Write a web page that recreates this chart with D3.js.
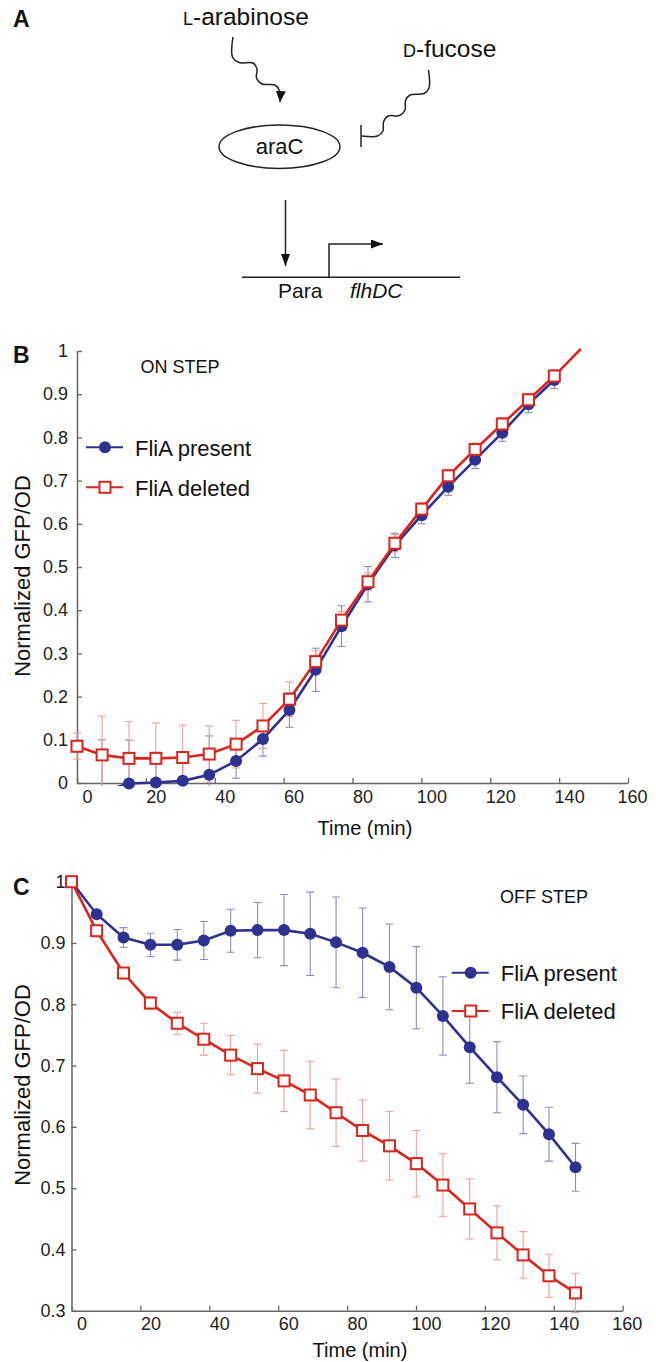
<!DOCTYPE html>
<html>
<head>
<meta charset="utf-8">
<script src="https://cdn.jsdelivr.net/npm/d3@7"></script>
<style>
  body { margin: 0; background: #fff; }
  svg { display: block; font-family: "Liberation Sans", Arial, sans-serif; }
</style>
</head>
<body>
<svg width="656" height="1362"></svg>
<script>
// sampling times (min), shared by both panels
const times = [0, 7.3, 15.1, 22.9, 30.7, 38.4, 46.2, 54, 61.7, 69.3, 76.8, 84.5, 92.3, 100.1, 107.8, 115.6, 123.5, 131.1, 138.6, 146.3];
const xTicks = [0, 20, 40, 60, 80, 100, 120, 140, 160];
const onTicks = [0, 0.1, 0.2, 0.3, 0.4, 0.5, 0.6, 0.7, 0.8, 0.9, 1];
const offTicks = [0.3, 0.4, 0.5, 0.6, 0.7, 0.8, 0.9, 1];
const seriesNames = ["FliA present", "FliA deleted"];

// B: ON STEP
const onPresent = [-0.04, -0.02, -0.001, 0.001, 0.005, 0.019, 0.051, 0.102, 0.169, 0.262, 0.363, 0.46, 0.55, 0.62, 0.686, 0.748, 0.811, 0.877, 0.933, null];
const onPresentErr = [0, 0.12, 0.1, 0.07, 0.065, 0.09, 0.04, 0.04, 0.04, 0.05, 0.047, 0.041, 0.028, 0.02, 0.02, 0.02, 0.02, 0.02, 0.02, 0];
const onDeleted = [0.085, 0.065, 0.057, 0.057, 0.059, 0.067, 0.09, 0.132, 0.194, 0.281, 0.377, 0.466, 0.555, 0.634, 0.711, 0.772, 0.831, 0.887, 0.942, 1.005];
const onDeletedErr = [0.03, 0.09, 0.085, 0.082, 0.075, 0.065, 0.055, 0.052, 0.04, 0.025, 0.02, 0.02, 0.02, 0.015, 0.015, 0.015, 0.015, 0.015, 0.015, 0];

// C: OFF STEP
const offPresent = [1.0, 0.947, 0.909, 0.897, 0.897, 0.904, 0.92, 0.921, 0.921, 0.915, 0.901, 0.884, 0.861, 0.827, 0.781, 0.73, 0.681, 0.636, 0.588, 0.534];
const offPresentErr = [0, 0, 0.016, 0.019, 0.025, 0.031, 0.035, 0.045, 0.058, 0.068, 0.074, 0.073, 0.07, 0.067, 0.064, 0.059, 0.058, 0.047, 0.044, 0.039];
const offDeleted = [1.0, 0.92, 0.851, 0.802, 0.769, 0.743, 0.717, 0.695, 0.675, 0.652, 0.623, 0.594, 0.569, 0.54, 0.505, 0.466, 0.427, 0.391, 0.357, 0.329];
const offDeletedErr = [0, 0, 0.005, 0.01, 0.018, 0.026, 0.032, 0.04, 0.05, 0.055, 0.055, 0.05, 0.056, 0.054, 0.051, 0.049, 0.044, 0.038, 0.035, 0.032];

const svg = d3.select("svg");
const blue = "#2f3190", red = "#d8261e";
const blueErr = "#8c8cbc", redErr = "#eea0a0";
const axisCol = "#666";

const defs = svg.append("defs");
function arrowMarker(id, w, h) {
  defs.append("marker")
    .attr("id", id)
    .attr("viewBox", `0 0 ${w} ${h}`)
    .attr("refX", w).attr("refY", h / 2)
    .attr("markerWidth", w).attr("markerHeight", h)
    .attr("markerUnits", "userSpaceOnUse")
    .attr("orient", "auto")
    .append("path")
    .attr("d", `M0,0L${w},${h / 2}L0,${h}Z`)
    .attr("fill", "#111");
}
arrowMarker("arr", 11, 10);
arrowMarker("arrLong", 12, 9);

// ---------- panel A: regulation diagram ----------
const dia = svg.append("g").attr("stroke", "#222").attr("fill", "none").attr("stroke-width", 1.5);
const wave = d3.line().curve(d3.curveCatmullRom.alpha(0.5));
const araPath = [[233, 37], [232.5, 57], [239, 62.5], [253, 63], [257, 69], [256.5, 78], [262, 84], [275, 85], [279.5, 91], [280, 102]];
const fucPath = [[428.5, 70], [429, 88], [424, 93.5], [410, 95], [405.5, 100.5], [405, 110], [399.5, 115.5], [388, 116], [383.5, 122], [383, 131], [377.5, 136], [362, 136]];
dia.append("path").attr("d", wave(araPath)).attr("marker-end", "url(#arr)");
dia.append("path").attr("d", wave(fucPath));
dia.append("line").attr("x1", 361).attr("x2", 361).attr("y1", 125).attr("y2", 147);
dia.append("ellipse").attr("cx", 279.5).attr("cy", 146.7).attr("rx", 60.5).attr("ry", 21.7);
dia.append("line").attr("x1", 285.5).attr("x2", 285.5).attr("y1", 200).attr("y2", 266).attr("marker-end", "url(#arrLong)");
dia.append("line").attr("x1", 242).attr("x2", 460).attr("y1", 277.3).attr("y2", 277.3);
dia.append("path").attr("d", "M329,277.3V244H383").attr("marker-end", "url(#arrLong)");

const txt = svg.append("g").attr("fill", "#111");
const ara = txt.append("text").attr("x", 183).attr("y", 25).attr("font-size", 24.5);
ara.append("tspan").attr("font-size", 18).text("L");
ara.append("tspan").text("-arabinose");
const fuc = txt.append("text").attr("x", 403).attr("y", 57).attr("font-size", 24.5);
fuc.append("tspan").attr("font-size", 18).text("D");
fuc.append("tspan").text("-fucose");
txt.append("text").attr("x", 279.5).attr("y", 154).attr("text-anchor", "middle").attr("font-size", 22).text("araC");
txt.append("text").attr("x", 278).attr("y", 298).attr("font-size", 21).text("Para");
txt.append("text").attr("x", 350).attr("y", 298).attr("font-size", 21).attr("font-style", "italic").text("flhDC");

// panel letters
[["A", 27], ["B", 363], ["C", 895]].forEach(([l, y]) => {
  svg.append("text").attr("x", 13).attr("y", y).attr("font-size", 23)
    .attr("font-weight", "bold").attr("fill", "#111").text(l);
});

// ---------- panels B and C ----------
function drawPanel(cfg) {
  const { x, y, yTicks, yPad, present, presentErr, deleted, deletedErr, id } = cfg;
  const g = svg.append("g");
  const [y0, y1] = y.domain();

  defs.append("clipPath").attr("id", id)
    .append("rect")
    .attr("x", x.range()[0] - 15).attr("y", y.range()[1] - 3)
    .attr("width", x.range()[1] - x.range()[0] + 15)
    .attr("height", y.range()[0] - y.range()[1] + 6);

  // axes
  const xAxis = g.append("g").attr("transform", `translate(0,${y.range()[0]})`)
    .call(d3.axisBottom(x).tickValues(xTicks).tickSizeInner(-5).tickSizeOuter(0)
      .tickPadding(7).tickFormat(d3.format("d")));
  xAxis.selectAll("text").attr("dx", d => d === 160 ? 4 : 10);
  const yAxis = g.append("g").attr("transform", `translate(${x.range()[0]},0)`)
    .call(d3.axisLeft(y).tickValues(yTicks).tickSizeInner(-5).tickSizeOuter(0)
      .tickPadding(yPad).tickFormat(d => String(d)));
  [xAxis, yAxis].forEach(a => {
    a.select(".domain").attr("stroke", axisCol).attr("stroke-width", 1.5);
    a.selectAll(".tick line").attr("stroke", axisCol).attr("stroke-width", 1.3);
    a.selectAll("text").attr("font-size", 18).attr("fill", "#222")
      .attr("font-family", "'Liberation Sans', Arial, sans-serif");
  });

  const series = [
    { vals: present, err: presentErr, col: blue, ecol: blueErr, shape: "circle" },
    { vals: deleted, err: deletedErr, col: red, ecol: redErr, shape: "square" }
  ];

  // error bars (behind lines)
  const eg = g.append("g").attr("clip-path", `url(#${id})`).attr("stroke-width", 1.1);
  series.forEach(s => {
    const pts = times.map((t, i) => ({ t, v: s.vals[i], e: s.err[i] }))
      .filter(d => d.v != null && d.e > 0);
    const bars = eg.append("g").attr("stroke", s.ecol);
    bars.selectAll("line.v").data(pts).join("line").attr("class", "v")
      .attr("x1", d => x(d.t)).attr("x2", d => x(d.t))
      .attr("y1", d => y(d.v - d.e)).attr("y2", d => y(d.v + d.e));
    [-1, 1].forEach(sg => {
      bars.selectAll(`line.c${sg}`).data(pts).join("line").attr("class", `c${sg}`)
        .attr("x1", d => x(d.t) - 4).attr("x2", d => x(d.t) + 4)
        .attr("y1", d => y(d.v + sg * d.e)).attr("y2", d => y(d.v + sg * d.e));
    });
  });

  // lines and markers
  series.forEach(s => {
    const pts = times.map((t, i) => ({ t, v: s.vals[i] })).filter(d => d.v != null);
    g.append("path").datum(pts)
      .attr("clip-path", `url(#${id})`)
      .attr("fill", "none").attr("stroke", s.col).attr("stroke-width", 2.6)
      .attr("d", d3.line().x(d => x(d.t)).y(d => y(d.v)));
    const shown = pts.filter(d => d.v >= y0 - 0.005 && d.v <= y1);
    if (s.shape === "circle") {
      g.append("g").selectAll("circle").data(shown).join("circle")
        .attr("cx", d => x(d.t)).attr("cy", d => y(d.v)).attr("r", 6)
        .attr("fill", s.col);
    } else {
      g.append("g").selectAll("rect").data(shown).join("rect")
        .attr("x", d => x(d.t) - 5.5).attr("y", d => y(d.v) - 5.5)
        .attr("width", 11).attr("height", 11)
        .attr("fill", "#fff").attr("stroke", s.col).attr("stroke-width", 2);
    }
  });

  // legend
  const lg = g.append("g");
  series.forEach((s, i) => {
    const ly = cfg.legend.y + i * cfg.legend.gap;
    const lx = cfg.legend.x;
    lg.append("line").attr("x1", lx).attr("x2", lx + 37).attr("y1", ly).attr("y2", ly)
      .attr("stroke", s.col).attr("stroke-width", 2);
    if (s.shape === "circle") {
      lg.append("circle").attr("cx", lx + 19).attr("cy", ly).attr("r", 6).attr("fill", s.col);
    } else {
      lg.append("rect").attr("x", lx + 13.5).attr("y", ly - 5.5).attr("width", 11).attr("height", 11)
        .attr("fill", "#fff").attr("stroke", s.col).attr("stroke-width", 2);
    }
    lg.append("text").attr("x", lx + 49).attr("y", ly + 8.3).attr("font-size", 22)
      .attr("fill", "#111").text(seriesNames[i]);
  });

  // titles
  g.append("text").attr("x", cfg.step.x).attr("y", cfg.step.y).attr("text-anchor", "middle")
    .attr("font-size", 18).attr("fill", "#111").text(cfg.step.label);
  g.append("text").attr("x", cfg.xTitle.x).attr("y", cfg.xTitle.y).attr("text-anchor", "middle")
    .attr("font-size", 20).attr("fill", "#111").text("Time (min)");
  g.append("text").attr("transform", `translate(30,${cfg.yTitleY}) rotate(-90)`)
    .attr("text-anchor", "middle").attr("font-size", 22).attr("fill", "#111")
    .text("Normalized GFP/OD");
}

drawPanel({
  id: "clipB",
  x: d3.scaleLinear().domain([0, 160]).range([77, 628]),
  y: d3.scaleLinear().domain([0, 1]).range([783, 351]),
  yTicks: onTicks, yPad: 9,
  present: onPresent, presentErr: onPresentErr,
  deleted: onDeleted, deletedErr: onDeletedErr,
  legend: { x: 86, y: 447.3, gap: 40 },
  step: { label: "ON STEP", x: 180, y: 373 },
  xTitle: { x: 365, y: 835 },
  yTitleY: 576
});

drawPanel({
  id: "clipC",
  x: d3.scaleLinear().domain([0, 160]).range([71.5, 622.7]),
  y: d3.scaleLinear().domain([0.3, 1]).range([1310.7, 881.7]),
  yTicks: offTicks, yPad: 6,
  present: offPresent, presentErr: offPresentErr,
  deleted: offDeleted, deletedErr: offDeletedErr,
  legend: { x: 451.7, y: 972.7, gap: 38.3 },
  step: { label: "OFF STEP", x: 544, y: 903 },
  xTitle: { x: 360, y: 1357 },
  yTitleY: 1085
});
</script>
</body>
</html>
